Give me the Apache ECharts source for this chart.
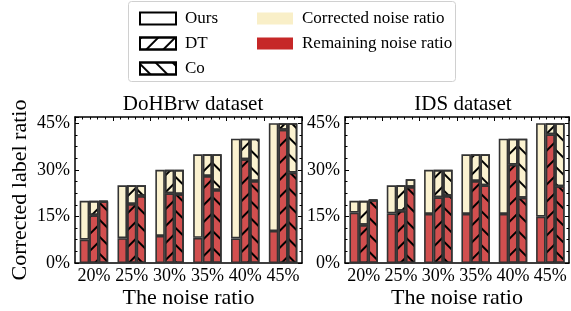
<!DOCTYPE html>
<html>
<head>
<meta charset="utf-8">
<script src="https://cdn.jsdelivr.net/npm/echarts@6/dist/echarts.min.js"></script>
<style>
  html, body { margin: 0; padding: 0; background: #fff; }
  #main { width: 571px; height: 311px; }
</style>
</head>
<body>
<div id="main"></div>
<script>
// 数据
var categories = ['20%', '25%', '30%', '35%', '40%', '45%'];

var dohOursTotal = [20, 25, 30, 35, 40, 45];
var dohOursRemain = [7.5, 8.0, 8.7, 8.1, 7.9, 10.3];
var dohDtTotal = [20, 25, 30, 35, 40, 45];
var dohDtRemain = [15.4, 19.0, 22.4, 28.0, 33.4, 42.9];
var dohCoTotal = [20, 25, 30, 35, 40, 45];
var dohCoRemain = [19.8, 21.6, 22.2, 23.5, 26.4, 29.1];

var idsOursTotal = [20, 25, 30, 35, 40, 45];
var idsOursRemain = [16.2, 16.0, 15.8, 15.8, 15.8, 14.9];
var idsDtTotal = [20, 25, 30, 35, 40, 45];
var idsDtRemain = [12.3, 16.8, 21.1, 26.4, 31.7, 41.4];
var idsCoTotal = [20.4, 27, 30, 35, 40, 45];
var idsCoRemain = [20.2, 24.5, 21.6, 25.0, 21.0, 24.7];

var yTicks = [0, 15, 30, 45];

var RED = 'rgba(200,40,40,0.82)';
var CREAM = 'rgba(250,240,200,0.85)';
var EDGE = '#333';
var FONT = 'Liberation Serif';

var hatchDT = { symbol: 'rect', symbolSize: 1, color: '#000', dashArrayX: [1, 0], dashArrayY: [1.1, 10], rotation: -Math.PI / 4 };
var hatchCo = { symbol: 'rect', symbolSize: 1, color: '#000', dashArrayX: [1, 0], dashArrayY: [1.1, 10], rotation: Math.PI / 4 };

function diff(total, remain) {
    return total.map(function (t, i) { return +(t - remain[i]).toFixed(2); });
}

function barPair(grid, stack, total, remain, decal) {
    var base = {
        type: 'bar', xAxisIndex: grid * 2, yAxisIndex: grid * 2,
        stack: stack + grid, barWidth: 9.5, barGap: '0%', barCategoryGap: '0%'
    };
    var red = Object.assign({}, base, {
        name: 'Remaining noise ratio', data: remain,
        itemStyle: { color: RED, borderColor: EDGE, borderWidth: 1.6, decal: decal }
    });
    var cream = Object.assign({}, base, {
        name: 'Corrected noise ratio', data: diff(total, remain),
        itemStyle: { color: CREAM, borderColor: EDGE, borderWidth: 1.6, decal: decal }
    });
    return [red, cream];
}

function xAxes(grid) {
    return [{
        type: 'category', gridIndex: grid, data: categories, position: 'bottom',
        axisLine: { lineStyle: { color: '#000', width: 1.5 } },
        axisTick: { show: false },
        axisLabel: { color: '#000', fontFamily: FONT, fontSize: 18, margin: 4, interval: 0 },
        name: 'The noise ratio', nameLocation: 'middle', nameGap: 24,
        nameTextStyle: { color: '#000', fontFamily: FONT, fontSize: 22 }
    }, {
        type: 'value', gridIndex: grid, position: 'top', min: 0, max: 6, interval: 1,
        axisLine: { onZero: false, lineStyle: { color: '#000', width: 1.5 } },
        axisTick: { inside: true, length: 4, lineStyle: { color: '#000' } },
        minorTick: { show: true, splitNumber: 5, length: 2.5, lineStyle: { color: '#000' } },
        axisLabel: { show: false }, splitLine: { show: false }
    }];
}

function yAxes(grid, withName) {
    var common = {
        type: 'value', gridIndex: grid, min: 0, max: 47, interval: 15,
        splitLine: { show: false },
        axisLine: { show: true, lineStyle: { color: '#000', width: 1.5 } },
        axisTick: { inside: true, length: 4, lineStyle: { color: '#000' } },
        minorTick: { show: true, splitNumber: 4, length: 2.5, lineStyle: { color: '#000' } }
    };
    var left = Object.assign({}, common, {
        position: 'left',
        axisLabel: { color: '#000', fontFamily: FONT, fontSize: 18, margin: 5, showMaxLabel: false,
            formatter: function (v) { return yTicks.indexOf(v) >= 0 ? v + '%' : ''; } }
    });
    if (withName) {
        left.name = 'Corrected label ratio';
        left.nameLocation = 'middle';
        left.nameGap = 44;
        left.nameTextStyle = { color: '#000', fontFamily: FONT, fontSize: 22 };
    }
    var right = Object.assign({}, common, { position: 'right', axisLabel: { show: false } });
    return [left, right];
}

var series = []
    .concat(barPair(0, 'ours', dohOursTotal, dohOursRemain, null))
    .concat(barPair(0, 'dt', dohDtTotal, dohDtRemain, hatchDT))
    .concat(barPair(0, 'co', dohCoTotal, dohCoRemain, hatchCo))
    .concat(barPair(1, 'ours', idsOursTotal, idsOursRemain, null))
    .concat(barPair(1, 'dt', idsDtTotal, idsDtRemain, hatchDT))
    .concat(barPair(1, 'co', idsCoTotal, idsCoRemain, hatchCo));

// 图例用的空系列
var legendStyle = { color: '#fff', borderColor: '#000', borderWidth: 2.5 };
[['Ours', null], ['DT', hatchDT], ['Co', hatchCo]].forEach(function (d) {
    series.push({
        type: 'bar', name: d[0], xAxisIndex: 4, yAxisIndex: 4, data: [],
        itemStyle: Object.assign({}, legendStyle, { decal: d[1] })
    });
});

var legendText = { color: '#000', fontFamily: FONT, fontSize: 17, padding: [0, 0, 0, 4] };

var option = {
    animation: false,
    title: [
        { text: 'DoHBrw dataset', left: 188, top: 89, textAlign: 'center',
          textStyle: { color: '#000', fontFamily: FONT, fontSize: 21, fontWeight: 'normal' } },
        { text: 'IDS dataset', left: 458, top: 89, textAlign: 'center',
          textStyle: { color: '#000', fontFamily: FONT, fontSize: 21, fontWeight: 'normal' } }
    ],
    legend: [{
        orient: 'vertical', left: 134, top: 5, itemWidth: 36, itemHeight: 12, itemGap: 8,
        icon: 'rect', selectedMode: false, textStyle: legendText,
        data: ['Ours', 'DT', 'Co']
    }, {
        orient: 'vertical', left: 252, top: 5, itemWidth: 36, itemHeight: 12, itemGap: 8,
        icon: 'rect', selectedMode: false, textStyle: legendText,
        data: [
            { name: 'Corrected noise ratio', itemStyle: { color: '#f9efc8', borderWidth: 0, decal: 'none' } },
            { name: 'Remaining noise ratio', itemStyle: { color: '#c62828', borderWidth: 0, decal: 'none' } }
        ]
    }],
    graphic: [{
        type: 'rect', shape: { x: 128.5, y: 1.5, width: 327, height: 80, r: 3 },
        style: { fill: 'none', stroke: '#d0d0d0', lineWidth: 1 }, z: -1
    }],
    grid: [
        { left: 75, top: 117, width: 227, height: 146 },
        { left: 345, top: 117, width: 224, height: 146 },
        { left: -200, top: -200, width: 10, height: 10 }
    ],
    xAxis: xAxes(0).concat(xAxes(1)).concat([{ type: 'category', gridIndex: 2, show: false, data: ['x'] }]),
    yAxis: yAxes(0, true).concat(yAxes(1, false)).concat([{ type: 'value', gridIndex: 2, show: false }]),
    series: series
};

var myChart = echarts.init(document.getElementById('main'));
myChart.setOption(option);
</script>
</body>
</html>
